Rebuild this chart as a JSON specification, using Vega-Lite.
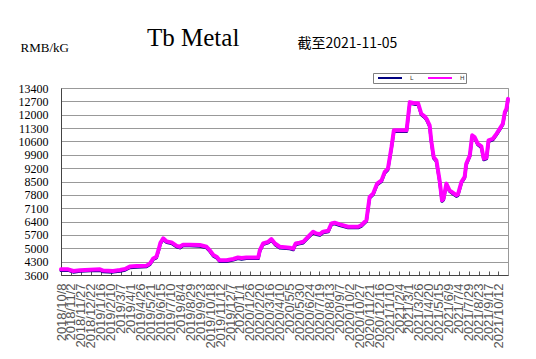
{
  "$schema": "https://vega.github.io/schema/vega-lite/v6.json",
  "width": 447,
  "height": 187,
  "autosize": {"type": "none"},
  "padding": {"left": 61, "top": 88, "right": 28, "bottom": 84},
  "background": "white",
  "title": {"text": "Tb Metal", "anchor": "start", "frame": "group", "dx": 86, "dy": 15, "font": "Liberation Serif", "fontSize": 25, "fontWeight": "normal", "color": "black", "offset": 0},
  "config": {"view": {"stroke": "#999999", "strokeWidth": 1}},
  "data": {"values": [
    {"d": "2018/10/08", "L": 3840, "H": 3900},
    {"d": "2018/10/26", "L": 3840, "H": 3900},
    {"d": "2018/11/08", "L": 3750, "H": 3810},
    {"d": "2018/11/25", "L": 3790, "H": 3850},
    {"d": "2018/12/20", "L": 3820, "H": 3880},
    {"d": "2019/01/14", "L": 3840, "H": 3900},
    {"d": "2019/01/22", "L": 3770, "H": 3830},
    {"d": "2019/02/16", "L": 3750, "H": 3810},
    {"d": "2019/03/05", "L": 3800, "H": 3860},
    {"d": "2019/03/18", "L": 3850, "H": 3910},
    {"d": "2019/03/30", "L": 3980, "H": 4040},
    {"d": "2019/04/16", "L": 4010, "H": 4070},
    {"d": "2019/05/11", "L": 4030, "H": 4090},
    {"d": "2019/05/20", "L": 4150, "H": 4210},
    {"d": "2019/05/28", "L": 4410, "H": 4470},
    {"d": "2019/06/05", "L": 4500, "H": 4560},
    {"d": "2019/06/10", "L": 4840, "H": 4900},
    {"d": "2019/06/15", "L": 5230, "H": 5290},
    {"d": "2019/06/22", "L": 5460, "H": 5520},
    {"d": "2019/07/01", "L": 5300, "H": 5360},
    {"d": "2019/07/13", "L": 5250, "H": 5310},
    {"d": "2019/07/26", "L": 5070, "H": 5130},
    {"d": "2019/08/03", "L": 5020, "H": 5080},
    {"d": "2019/08/11", "L": 5130, "H": 5190},
    {"d": "2019/08/28", "L": 5130, "H": 5190},
    {"d": "2019/09/22", "L": 5110, "H": 5170},
    {"d": "2019/10/09", "L": 5020, "H": 5080},
    {"d": "2019/10/17", "L": 4840, "H": 4900},
    {"d": "2019/10/26", "L": 4590, "H": 4650},
    {"d": "2019/11/03", "L": 4500, "H": 4560},
    {"d": "2019/11/11", "L": 4310, "H": 4370},
    {"d": "2019/11/28", "L": 4310, "H": 4370},
    {"d": "2019/12/15", "L": 4380, "H": 4440},
    {"d": "2019/12/27", "L": 4460, "H": 4520},
    {"d": "2020/01/05", "L": 4430, "H": 4490},
    {"d": "2020/01/17", "L": 4460, "H": 4520},
    {"d": "2020/02/16", "L": 4460, "H": 4520},
    {"d": "2020/02/20", "L": 4840, "H": 4900},
    {"d": "2020/02/28", "L": 5190, "H": 5250},
    {"d": "2020/03/12", "L": 5280, "H": 5340},
    {"d": "2020/03/20", "L": 5420, "H": 5480},
    {"d": "2020/03/29", "L": 5190, "H": 5250},
    {"d": "2020/04/10", "L": 5020, "H": 5080},
    {"d": "2020/05/05", "L": 4970, "H": 5030},
    {"d": "2020/05/14", "L": 4920, "H": 4980},
    {"d": "2020/05/20", "L": 5190, "H": 5250},
    {"d": "2020/05/30", "L": 5230, "H": 5290},
    {"d": "2020/06/08", "L": 5280, "H": 5340},
    {"d": "2020/06/20", "L": 5540, "H": 5600},
    {"d": "2020/07/03", "L": 5810, "H": 5870},
    {"d": "2020/07/11", "L": 5720, "H": 5780},
    {"d": "2020/07/20", "L": 5680, "H": 5740},
    {"d": "2020/07/28", "L": 5810, "H": 5870},
    {"d": "2020/08/10", "L": 5860, "H": 5920},
    {"d": "2020/08/18", "L": 6240, "H": 6300},
    {"d": "2020/08/26", "L": 6280, "H": 6340},
    {"d": "2020/09/08", "L": 6190, "H": 6250},
    {"d": "2020/09/29", "L": 6070, "H": 6130},
    {"d": "2020/10/24", "L": 6070, "H": 6130},
    {"d": "2020/11/01", "L": 6150, "H": 6210},
    {"d": "2020/11/14", "L": 6410, "H": 6470},
    {"d": "2020/11/22", "L": 7630, "H": 7690},
    {"d": "2020/12/01", "L": 7810, "H": 7870},
    {"d": "2020/12/11", "L": 8330, "H": 8390},
    {"d": "2020/12/22", "L": 8500, "H": 8560},
    {"d": "2020/12/30", "L": 8940, "H": 9000},
    {"d": "2021/01/07", "L": 9110, "H": 9170},
    {"d": "2021/01/16", "L": 10240, "H": 10300},
    {"d": "2021/01/22", "L": 11120, "H": 11180},
    {"d": "2021/02/23", "L": 11120, "H": 11180},
    {"d": "2021/03/03", "L": 12600, "H": 12660},
    {"d": "2021/03/15", "L": 12540, "H": 12600},
    {"d": "2021/03/24", "L": 12540, "H": 12600},
    {"d": "2021/04/01", "L": 11990, "H": 12050},
    {"d": "2021/04/10", "L": 11840, "H": 11900},
    {"d": "2021/04/14", "L": 11730, "H": 11790},
    {"d": "2021/04/22", "L": 11380, "H": 11440},
    {"d": "2021/04/26", "L": 10590, "H": 10650},
    {"d": "2021/05/02", "L": 9720, "H": 9780},
    {"d": "2021/05/09", "L": 9540, "H": 9600},
    {"d": "2021/05/17", "L": 8500, "H": 8560},
    {"d": "2021/05/23", "L": 7460, "H": 7520},
    {"d": "2021/05/27", "L": 7540, "H": 7600},
    {"d": "2021/06/03", "L": 8330, "H": 8390},
    {"d": "2021/06/11", "L": 7980, "H": 8040},
    {"d": "2021/06/20", "L": 7840, "H": 7900},
    {"d": "2021/06/28", "L": 7720, "H": 7780},
    {"d": "2021/07/02", "L": 7760, "H": 7820},
    {"d": "2021/07/11", "L": 8420, "H": 8480},
    {"d": "2021/07/19", "L": 8680, "H": 8740},
    {"d": "2021/07/23", "L": 9370, "H": 9430},
    {"d": "2021/08/01", "L": 9810, "H": 9870},
    {"d": "2021/08/07", "L": 10860, "H": 10920},
    {"d": "2021/08/13", "L": 10770, "H": 10830},
    {"d": "2021/08/21", "L": 10420, "H": 10480},
    {"d": "2021/08/30", "L": 10280, "H": 10340},
    {"d": "2021/09/05", "L": 9640, "H": 9700},
    {"d": "2021/09/12", "L": 9690, "H": 9750},
    {"d": "2021/09/17", "L": 10590, "H": 10650},
    {"d": "2021/09/28", "L": 10680, "H": 10740},
    {"d": "2021/10/07", "L": 10940, "H": 11000},
    {"d": "2021/10/15", "L": 11200, "H": 11260},
    {"d": "2021/10/23", "L": 11470, "H": 11530},
    {"d": "2021/10/28", "L": 12070, "H": 12130},
    {"d": "2021/11/01", "L": 12240, "H": 12300},
    {"d": "2021/11/05", "L": 12770, "H": 12830}
  ]},
  "resolve": {"axis": {"x": "independent", "y": "independent"}},
  "layer": [
    {
      "mark": {"type": "line", "strokeWidth": 3, "strokeJoin": "round", "strokeCap": "round"},
      "encoding": {
        "x": {
          "field": "d", "type": "temporal",
          "scale": {"domain": [{"year": 2018, "month": 10, "date": 8}, {"year": 2021, "month": 11, "date": 5}], "nice": false},
          "axis": {
            "orient": "bottom", "title": null, "grid": false,
            "values": [
              {"year": 2018, "month": 10, "date": 8}, {"year": 2018, "month": 11, "date": 2}, {"year": 2018, "month": 11, "date": 27}, {"year": 2018, "month": 12, "date": 22},
              {"year": 2019, "month": 1, "date": 16}, {"year": 2019, "month": 2, "date": 10}, {"year": 2019, "month": 3, "date": 7}, {"year": 2019, "month": 4, "date": 1},
              {"year": 2019, "month": 4, "date": 26}, {"year": 2019, "month": 5, "date": 21}, {"year": 2019, "month": 6, "date": 15}, {"year": 2019, "month": 7, "date": 10},
              {"year": 2019, "month": 8, "date": 4}, {"year": 2019, "month": 8, "date": 29}, {"year": 2019, "month": 9, "date": 23}, {"year": 2019, "month": 10, "date": 18},
              {"year": 2019, "month": 11, "date": 12}, {"year": 2019, "month": 12, "date": 7}, {"year": 2020, "month": 1, "date": 1}, {"year": 2020, "month": 1, "date": 26},
              {"year": 2020, "month": 2, "date": 20}, {"year": 2020, "month": 3, "date": 16}, {"year": 2020, "month": 4, "date": 10}, {"year": 2020, "month": 5, "date": 5},
              {"year": 2020, "month": 5, "date": 30}, {"year": 2020, "month": 6, "date": 24}, {"year": 2020, "month": 7, "date": 19}, {"year": 2020, "month": 8, "date": 13},
              {"year": 2020, "month": 9, "date": 7}, {"year": 2020, "month": 10, "date": 2}, {"year": 2020, "month": 10, "date": 27}, {"year": 2020, "month": 11, "date": 21},
              {"year": 2020, "month": 12, "date": 16}, {"year": 2021, "month": 1, "date": 10}, {"year": 2021, "month": 2, "date": 4}, {"year": 2021, "month": 3, "date": 1},
              {"year": 2021, "month": 3, "date": 26}, {"year": 2021, "month": 4, "date": 20}, {"year": 2021, "month": 5, "date": 15}, {"year": 2021, "month": 6, "date": 9},
              {"year": 2021, "month": 7, "date": 4}, {"year": 2021, "month": 7, "date": 29}, {"year": 2021, "month": 8, "date": 23}, {"year": 2021, "month": 9, "date": 17},
              {"year": 2021, "month": 10, "date": 12}
            ],
            "format": "%Y/%-m/%-d",
            "labelAngle": -90, "labelAlign": "right", "labelBaseline": "middle",
            "labelFont": "Liberation Sans", "labelFontSize": 13, "labelColor": "#555555",
            "labelPadding": 12, "labelOverlap": false, "labelFlush": false, "labelBound": false,
            "tickSize": -4, "tickColor": "#555555", "domainColor": "#444444"
          }
        },
        "y": {
          "field": "L", "type": "quantitative",
          "scale": {"domain": [3600, 13400], "nice": false, "zero": false},
          "axis": {
            "orient": "left", "format": "d",
            "values": [3600, 4300, 5000, 5700, 6400, 7100, 7800, 8500, 9200, 9900, 10600, 11300, 12000, 12700, 13400],
            "title": "RMB/kG", "titleAngle": 0, "titleX": -41, "titleY": -37, "titleAlign": "left", "titleBaseline": "alphabetic",
            "titleFont": "Liberation Serif", "titleFontSize": 13, "titleFontWeight": "normal", "titleColor": "black",
            "labelFont": "Liberation Serif", "labelFontSize": 12, "labelColor": "black", "labelPadding": 13,
            "labelOverlap": false, "labelFlush": false, "labelBound": false,
            "ticks": false, "domainColor": "#444444", "gridColor": "#999999", "gridWidth": 1
          }
        },
        "color": {
          "datum": "L",
          "scale": {"domain": ["L", "H"], "range": ["#000080", "#ff00ff"]},
          "legend": {
            "orient": "none", "legendX": 312, "legendY": -15, "direction": "horizontal", "title": null,
            "symbolType": "M-4,0H4", "symbolSize": 36, "symbolStrokeWidth": 2, "symbolOffset": 12,
            "labelFont": "DejaVu Sans", "labelFontSize": 6, "labelColor": "#333333", "labelOffset": 16,
            "columnPadding": 10, "padding": 1, "strokeColor": "#808080", "fillColor": "white"
          }
        }
      }
    },
    {
      "mark": {"type": "line", "strokeWidth": 4, "strokeJoin": "round", "strokeCap": "round"},
      "encoding": {
        "x": {
          "field": "d", "type": "temporal",
          "axis": {
            "orient": "top", "labels": false, "ticks": false, "domain": false, "grid": false,
            "title": "截至2021-11-05", "titleX": 236, "titleY": -41, "titleAlign": "left", "titleAnchor": "start", "titleBaseline": "alphabetic",
            "titleFont": "Noto Sans CJK SC", "titleFontSize": 14, "titleFontWeight": "normal", "titleColor": "black"
          }
        },
        "y": {"field": "H", "type": "quantitative", "axis": null},
        "color": {"datum": "H"}
      }
    }
  ]
}
